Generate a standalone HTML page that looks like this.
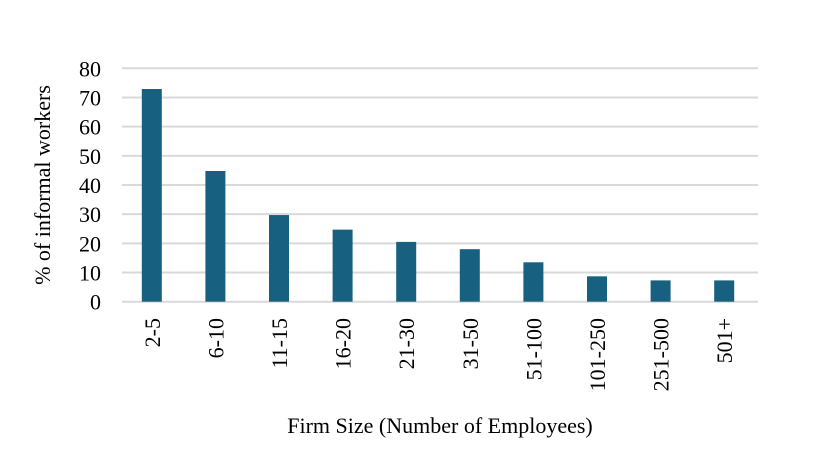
<!DOCTYPE html>
<html><head><meta charset="utf-8"><style>
body{margin:0;background:#fff}
svg{display:block;font-family:"Liberation Serif",serif}
</style></head><body>
<svg id="chart" width="818" height="474" xmlns="http://www.w3.org/2000/svg">
<g id="grid"></g>
<g id="yticks"></g>
<g id="bars"></g>
<g id="xticks"></g>
<text transform="translate(50,185) rotate(-90)" text-anchor="middle" font-size="22" fill="#000">% of informal workers</text>
<text x="440" y="433" text-anchor="middle" font-size="22" fill="#000">Firm Size (Number of Employees)</text>
</svg>
<script>
const categories=["2-5","6-10","11-15","16-20","21-30","31-50","51-100","101-250","251-500","501+"];
const values=[72.9,44.8,29.7,24.7,20.5,18,13.5,8.7,7.3,7.3];
const yTicks=[0,10,20,30,40,50,60,70,80];
const NS="http://www.w3.org/2000/svg";
const L=122,R=758,Y0=301.7,Y80=68.3;
const y=v=>Y0-(v/80)*(Y0-Y80);
const band=(R-L)/categories.length;
const xc=i=>L+band*(i+0.5)-2;
function mk(t,a,p){const e=document.createElementNS(NS,t);for(const k in a)e.setAttribute(k,a[k]);p.appendChild(e);return e;}
const g=document.getElementById('grid'),yt=document.getElementById('yticks'),b=document.getElementById('bars'),xt=document.getElementById('xticks');
yTicks.forEach(v=>{
 const l=mk('line',{x1:L,x2:R,y1:y(v),y2:y(v),stroke:'#d9d9d9','stroke-width':2},g);
 
 
 const t=mk('text',{x:101,y:y(v)+8,'text-anchor':'end','font-size':22,fill:'#000'},yt);
 t.textContent=v;
 
 
});
values.forEach((v,i)=>{
 const r=mk('rect',{x:xc(i)-10,y:y(v),width:20,height:Y0-y(v),fill:'#17607f'},b);
 
 
 const t=mk('text',{transform:`translate(${xc(i)+8},318) rotate(-90)`,'text-anchor':'end','font-size':22,fill:'#000'},xt);
 t.textContent=categories[i];
 
 
});
</script>
</body></html>
